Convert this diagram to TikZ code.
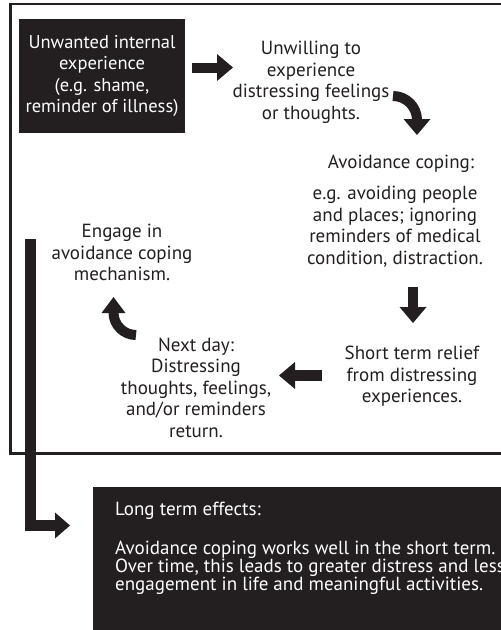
\documentclass[tikz,border=0pt]{standalone}
\usepackage{fontspec}
\setmainfont{PT Sans}
\usetikzlibrary{arrows.meta}
\definecolor{ink}{HTML}{231F20}
\begin{document}
\begin{tikzpicture}[x=1pt,y=-1pt,
  lbl/.style={align=center, inner sep=0pt, text=ink, font=\fontsize{19}{21.5}\selectfont},
  blockarrow/.style={draw=ink, line width=10pt,
    -{Triangle[width=27pt,length=16pt,line width=0pt]}},
  barline/.style={draw=ink, line width=11pt}]
\useasboundingbox (0,0) rectangle (501,630);

% outer frame, open on the right
\draw[ink, line width=2.3pt] (503,4.3) -- (10.5,4.3) -- (10.5,453.5) -- (503,453.5);

% first box
\node[fill=ink, minimum width=166pt, minimum height=114pt, inner sep=0pt,
      text=white, align=center, font=\fontsize{18.5}{21.5}\selectfont]
  (unwanted) at (102,76) {Unwanted internal\\experience\\(e.g. shame,\\reminder of illness)};

\node[lbl] (unwilling) at (311,82.5) {Unwilling to\\experience\\distressing feelings\\or thoughts.};
\node[lbl] (avtitle) at (401,164) {Avoidance coping:};
\node[lbl] (avbody) at (395,226.5) {e.g. avoiding people\\and places; ignoring\\reminders of medical\\condition, distraction.};
\node[lbl] (relief) at (412,376.5) {Short term relief\\from distressing\\experiences.};
\node[lbl] (nextday) at (196,387.5) {Next day:\\Distressing\\thoughts, feelings,\\and/or reminders\\return.};
\node[lbl] (engage) at (122,252.5) {Engage in\\avoidance coping\\mechanism.};

% long term box
\node[fill=ink, anchor=north west, minimum width=420pt, minimum height=150pt, inner sep=0pt]
  (longbox) at (93,487) {};
\node[anchor=west, inner sep=0pt, text=white,
      font=\fontsize{19}{18}\selectfont] (longtitle) at (115,511)
  {Long term effects:};
\node[anchor=west, inner sep=0pt, text=white, align=left,
      font=\fontsize{19}{18}\selectfont] (longtext) at (115,568)
  {Avoidance coping works well in the short term.\\
   Over time, this leads to greater distress and less\\
   engagement in life and meaningful activities.};

% arrow end points
\coordinate (a1s) at (192,67.5);
\coordinate (a1e) at (233,67.5);
\coordinate (a2s) at (393,96);
\coordinate (a2e) at (417,135);
\coordinate (a3s) at (413,287);
\coordinate (a3e) at (413,323);
\coordinate (a4s) at (322,375.5);
\coordinate (a4e) at (279,375.5);
\coordinate (a5s) at (136,335);
\coordinate (a5e) at (113.5,297);
\coordinate (bartop) at (30.5,239);
\coordinate (barbend) at (30.5,525.5);
\coordinate (bartip) at (70,525.5);

\draw[blockarrow] (a1s) -- (a1e);
\draw[blockarrow] (a2s) arc[start angle=270, end angle=360, radius=24] -- (a2e);
\draw[blockarrow] (a3s) -- (a3e);
\draw[blockarrow, line width=11pt] (a4s) -- (a4e);
\draw[blockarrow, -{Triangle[width=24pt,length=16pt,line width=0pt]}]
  (a5s) arc[start angle=90, end angle=180, radius=22.5] -- (a5e);
\draw[barline, -{Triangle[width=26pt,length=15pt,line width=0pt]}]
  ([yshift=-0.1pt]bartop) -- (barbend) -- (bartip);
\end{tikzpicture}
\end{document}
